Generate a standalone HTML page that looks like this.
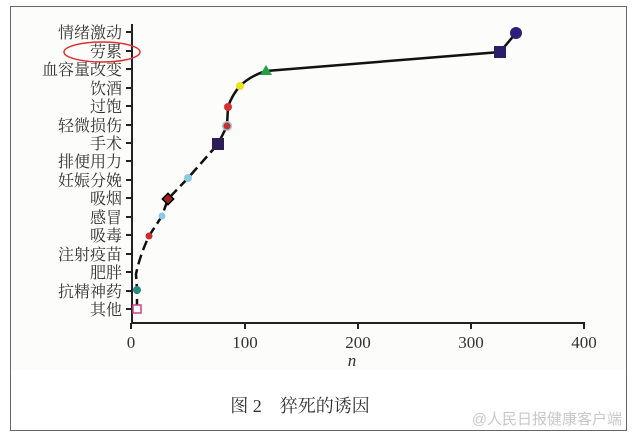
<!DOCTYPE html>
<html><head><meta charset="utf-8"><style>
html,body{margin:0;padding:0;background:#fff;}
svg{display:block;}
text{font-family:"Liberation Serif","Noto Serif CJK SC",serif;fill:#333;}
</style></head><body>
<svg width="638" height="440" viewBox="0 0 638 440">
<rect x="0" y="0" width="638" height="440" fill="#fff"/>
<rect x="10.5" y="6.5" width="616" height="424" fill="#fcfcfa" stroke="#666" stroke-width="1"/>
<rect x="11" y="370" width="615" height="60" fill="#fff"/>
<line x1="132" y1="24" x2="132" y2="323" stroke="#222" stroke-width="2"/>
<line x1="131" y1="323" x2="585" y2="323" stroke="#222" stroke-width="2"/>
<g stroke="#222" stroke-width="2">
<line x1="131" y1="323" x2="131" y2="329"/><line x1="245" y1="323" x2="245" y2="329"/><line x1="358" y1="323" x2="358" y2="329"/><line x1="471" y1="323" x2="471" y2="329"/><line x1="584" y1="323" x2="584" y2="329"/>
</g>
<g font-size="17" text-anchor="middle">
<text x="131" y="348">0</text><text x="245" y="348">100</text><text x="358" y="348">200</text><text x="471" y="348">300</text><text x="584" y="348">400</text>
<text x="352" y="366" font-style="italic">n</text>
</g>
<g stroke="#222" stroke-width="2">
<line x1="126" y1="32" x2="132" y2="32"/><line x1="126" y1="51" x2="132" y2="51"/><line x1="126" y1="69" x2="132" y2="69"/><line x1="126" y1="88" x2="132" y2="88"/><line x1="126" y1="106" x2="132" y2="106"/><line x1="126" y1="125" x2="132" y2="125"/><line x1="126" y1="143" x2="132" y2="143"/><line x1="126" y1="161" x2="132" y2="161"/><line x1="126" y1="180" x2="132" y2="180"/><line x1="126" y1="198" x2="132" y2="198"/><line x1="126" y1="217" x2="132" y2="217"/><line x1="126" y1="235" x2="132" y2="235"/><line x1="126" y1="254" x2="132" y2="254"/><line x1="126" y1="272" x2="132" y2="272"/><line x1="126" y1="291" x2="132" y2="291"/><line x1="126" y1="309" x2="132" y2="309"/>
</g>
<g font-size="16" text-anchor="end">
<text x="122" y="38">情绪激动</text><text x="122" y="57">劳累</text><text x="122" y="75">血容量改变</text><text x="122" y="94">饮酒</text><text x="122" y="112">过饱</text><text x="122" y="131">轻微损伤</text><text x="122" y="149">手术</text><text x="122" y="167">排便用力</text><text x="122" y="186">妊娠分娩</text><text x="122" y="204">吸烟</text><text x="122" y="223">感冒</text><text x="122" y="241">吸毒</text><text x="122" y="260">注射疫苗</text><text x="122" y="278">肥胖</text><text x="122" y="297">抗精神药</text><text x="122" y="315">其他</text>
</g>
<ellipse cx="102" cy="52" rx="38" ry="10" fill="none" stroke="#d33" stroke-width="1.5"/>
<path d="M137,309 L137,290 L136,274 Q140,255 149,236 L162,216 L168,199 L188,178 L218,144" fill="none" stroke="#111" stroke-width="2.5" stroke-dasharray="10,5"/>
<path d="M218,144 L227,126 L228,107 Q232,95 240,86 Q250,76 266,71 L500,52 L516,33" fill="none" stroke="#111" stroke-width="2.5"/>
<rect x="133" y="305" width="8" height="8" fill="#fff" stroke="#d04080" stroke-width="1.5"/>
<circle cx="137" cy="290" r="4" fill="#2a8a80"/>
<circle cx="149" cy="236" r="3.5" fill="#c83030"/>
<circle cx="162" cy="216" r="3.5" fill="#8ec8e0"/>
<rect x="164" y="195" width="8" height="8" fill="#a02020" stroke="#000" stroke-width="1.5" transform="rotate(45 168 199)"/>
<circle cx="188" cy="178" r="4" fill="#8ec8e0"/>
<rect x="212" y="138" width="12" height="12" fill="#2c1f55"/>
<circle cx="227" cy="126" r="5" fill="#9cc4dc"/>
<circle cx="227" cy="126" r="3.5" fill="#c83030"/>
<circle cx="228" cy="107" r="4" fill="#d83030"/>
<circle cx="240" cy="86" r="4" fill="#f0e020"/>
<polygon points="266,65 272,75 260,75" fill="#20a040"/>
<rect x="494" y="46" width="12" height="12" fill="#2c1f6a"/>
<circle cx="516" cy="33" r="6" fill="#2c1f7a"/>
<text x="300" y="412" font-size="18" text-anchor="middle">图 2　猝死的诱因</text>
<text x="622" y="424" font-size="15" text-anchor="end" style="fill:#c8c8c8;font-family:'Liberation Sans','Noto Sans CJK SC',sans-serif">@人民日报健康客户端</text>
</svg>
</body></html>
